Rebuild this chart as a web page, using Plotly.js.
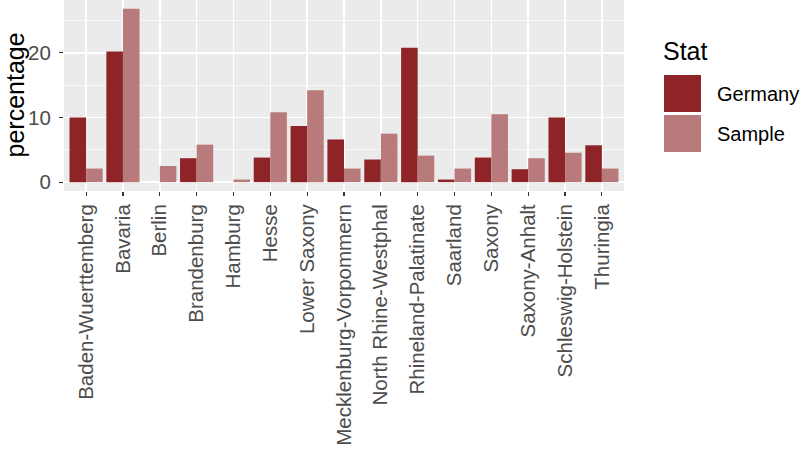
<!DOCTYPE html>
<html>
<head>
<meta charset="utf-8">
<script src="https://cdn.plot.ly/plotly-3.0.1.min.js"></script>
<style>html,body{margin:0;padding:0;background:#fff;}#chart{width:800px;height:449px;}</style>
</head>
<body>
<div id="chart"></div>
<script>
const states = ["Baden-Wuerttemberg","Bavaria","Berlin","Brandenburg","Hamburg","Hesse","Lower Saxony","Mecklenburg-Vorpommern","North Rhine-Westphal","Rhineland-Palatinate","Saarland","Saxony","Saxony-Anhalt","Schleswig-Holstein","Thuringia"];
const germany = [10.0, 20.2, 0, 3.7, 0, 3.8, 8.7, 6.6, 3.5, 20.8, 0.4, 3.8, 2.0, 10.0, 5.7];
const sample = [2.1, 26.8, 2.5, 5.8, 0.4, 10.8, 14.2, 2.1, 7.5, 4.1, 2.1, 10.5, 3.7, 4.55, 2.1];
const seriesNames = ["Germany", "Sample"];
const legendTitle = "Stat";
const yTitle = "percentage";

const colors = ["#8E2427", "#B97A7B"];
const W = 800, H = 449;
const L = 64, R = 176, T = 0, B = 258;
const pw = W - L - R, ph = H - T - B;
const px = x => (x - L) / pw;
const py = y => (H - B - y) / ph;

const traces = [germany, sample].map((vals, i) => ({
  type: "bar", x: states, y: vals, name: seriesNames[i],
  marker: {color: colors[i], line: {width: 0}},
  showlegend: false, hoverinfo: "x+y+name"
}));

const shapes = [
  {type: "rect", xref: "paper", yref: "paper", x0: px(664), x1: px(701), y0: py(75), y1: py(112), fillcolor: colors[0], line: {width: 0}},
  {type: "rect", xref: "paper", yref: "paper", x0: px(664), x1: px(701), y0: py(115), y1: py(152), fillcolor: colors[1], line: {width: 0}}
];
const annotations = [
  {text: yTitle, xref: "paper", yref: "paper", x: px(14), y: 0.5, textangle: -90, showarrow: false, xanchor: "center", yanchor: "middle", font: {family: "Liberation Sans, Arial", size: 25, color: "#000"}},
  {text: legendTitle, xref: "paper", yref: "paper", x: px(661), y: py(51), showarrow: false, xanchor: "left", yanchor: "middle", font: {family: "Liberation Sans, Arial", size: 25, color: "#000"}},
  {text: seriesNames[0], xref: "paper", yref: "paper", x: px(715), y: py(94), showarrow: false, xanchor: "left", yanchor: "middle", font: {family: "Liberation Sans, Arial", size: 20, color: "#000"}},
  {text: seriesNames[1], xref: "paper", yref: "paper", x: px(715), y: py(134), showarrow: false, xanchor: "left", yanchor: "middle", font: {family: "Liberation Sans, Arial", size: 20, color: "#000"}}
];

const layout = {
  width: W, height: H,
  margin: {l: L, r: R, t: T, b: B, pad: 0},
  paper_bgcolor: "#FFFFFF", plot_bgcolor: "#EBEBEB",
  font: {family: "Liberation Sans, Arial", size: 20.5, color: "#4D4D4D"},
  barmode: "group", bargap: 0.1, bargroupgap: 0,
  showlegend: false,
  xaxis: {
    type: "category", range: [-0.6, 14.6], automargin: false,
    tickangle: -90, tickfont: {size: 20.5, color: "#4D4D4D"},
    ticks: "outside", ticklen: 4, tickwidth: 1.1, tickcolor: "#333333",
    showgrid: true, gridcolor: "#FFFFFF", gridwidth: 1.5,
    zeroline: false, showline: false, ticklabelstandoff: 0
  },
  yaxis: {
    range: [-1.37, 28.17], automargin: false,
    tick0: 0, dtick: 10,
    tickfont: {size: 20.5, color: "#4D4D4D"},
    ticks: "outside", ticklen: 4, tickwidth: 1.1, tickcolor: "#333333",
    showgrid: true, gridcolor: "#FFFFFF", gridwidth: 1.5,
    minor: {dtick: 5, tick0: 0, showgrid: true, gridcolor: "#FFFFFF", gridwidth: 0.7, ticks: ""},
    zeroline: false, showline: false, ticklabelstandoff: 4
  },
  shapes: shapes,
  annotations: annotations
};

Plotly.newPlot("chart", traces, layout, {displayModeBar: false, staticPlot: true});
</script>
</body>
</html>
